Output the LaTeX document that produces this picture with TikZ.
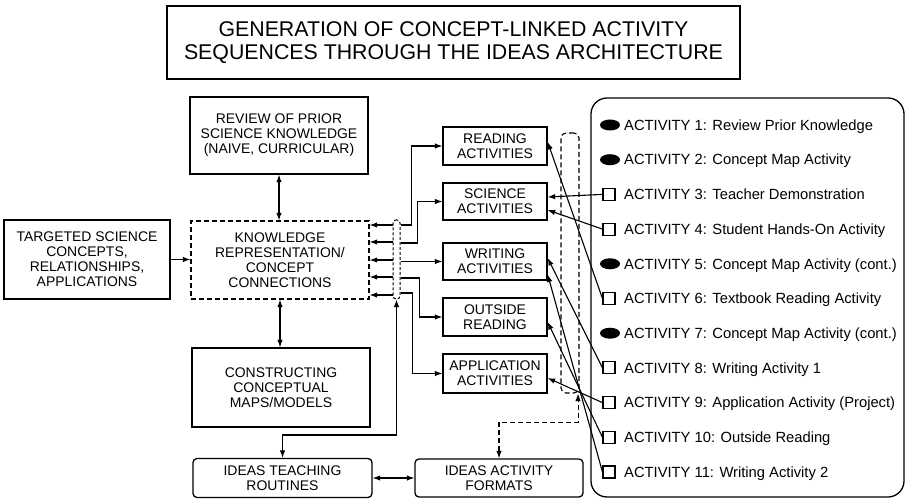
\documentclass[tikz,border=0pt]{standalone}
\usepackage{fontspec}
\setmainfont{Liberation Sans}
\usetikzlibrary{arrows.meta,calc,shapes.geometric}
\begin{document}
\begin{tikzpicture}[x=1bp,y=-1bp,
  >={Latex[length=7.5bp,width=5.5bp]},
  every node/.style={inner sep=0pt},
  boxfont/.style={font=\fontsize{14}{15}\selectfont},
  frame/.style={draw, line width=1.3bp, align=center, boxfont},
  dashframe/.style={frame, dash pattern=on 5bp off 3bp},
  roundframe/.style={frame, rounded corners=4bp},
  link/.style={line width=1.1bp},
  dlink/.style={link, dash pattern=on 5bp off 3bp},
  actfont/.style={font=\fontsize{14.8}{16}\selectfont},
  bullet/.style={ellipse, fill, minimum width=20bp, minimum height=11bp},
  tick/.style={draw, line width=1.1bp, minimum size=12bp},
  acttext/.style={anchor=base west, actfont},
]
\useasboundingbox (0,0) rectangle (907,499);

% heading
\node[frame, minimum width=573bp, minimum height=73bp,
      font=\fontsize{21.4}{23}\selectfont] (title) at (453.5,42.5)
  {GENERATION OF CONCEPT-LINKED ACTIVITY\\SEQUENCES THROUGH THE IDEAS ARCHITECTURE};

% knowledge column
\node[frame, minimum width=178bp, minimum height=77bp] (review) at (279,135.5)
  {REVIEW OF PRIOR\\SCIENCE KNOWLEDGE\\(NAIVE, CURRICULAR)};
\node[frame, minimum width=166bp, minimum height=79bp] (targeted) at (87,259.5)
  {TARGETED SCIENCE\\CONCEPTS,\\RELATIONSHIPS,\\APPLICATIONS};
\node[dashframe, minimum width=178bp, minimum height=78bp] (know) at (280,260)
  {KNOWLEDGE\\REPRESENTATION/\\CONCEPT\\CONNECTIONS};
\node[frame, minimum width=178bp, minimum height=79bp] (construct) at (281,387.5)
  {CONSTRUCTING\\CONCEPTUAL\\MAPS/MODELS};
\node[roundframe, minimum width=179bp, minimum height=39bp] (routines) at (282.5,478)
  {IDEAS TEACHING\\ROUTINES};
\node[roundframe, minimum width=168bp, minimum height=38bp] (formats) at (499,478)
  {IDEAS ACTIVITY\\FORMATS};

% activity boxes
\node[frame, minimum width=104bp, minimum height=38bp] (reading) at (495,146)
  {READING\\ACTIVITIES};
\node[frame, minimum width=104bp, minimum height=37bp] (science) at (495,201.5)
  {SCIENCE\\ACTIVITIES};
\node[frame, minimum width=104bp, minimum height=37bp] (writing) at (495,261.5)
  {WRITING\\ACTIVITIES};
\node[frame, minimum width=104bp, minimum height=38bp] (outside) at (495,317)
  {OUTSIDE\\READING};
\node[frame, minimum width=104bp, minimum height=39bp] (application) at (495,373.5)
  {APPLICATION\\ACTIVITIES};

% distribution bar and collecting bar
\node[draw, line width=1bp, dash pattern=on 3bp off 2bp, rounded corners=3bp,
      minimum width=7bp, minimum height=79bp] (bar) at (396.5,259.5) {};
\node[draw, line width=1.1bp, dash pattern=on 5bp off 3bp, rounded corners=5bp,
      minimum width=18bp, minimum height=260bp] (collect) at (570,263) {};

% activity sequence panel
\node[draw, line width=1.3bp, rounded corners=16bp,
      minimum width=313bp, minimum height=399bp] (panel) at (747.5,297.5) {};

\node[bullet] (m1)  at (610,125)   {};
\node[bullet] (m2)  at (610,159.7) {};
\node[tick]   (m3)  at (609,194.4) {};
\node[tick]   (m4)  at (609,229.1) {};
\node[bullet] (m5)  at (610,263.8) {};
\node[tick]   (m6)  at (609,298.5) {};
\node[bullet] (m7)  at (610,333.2) {};
\node[tick]   (m8)  at (609,367.9) {};
\node[tick]   (m9)  at (609,402.6) {};
\node[tick]   (m10) at (609,437.3) {};
\node[tick]   (m11) at (609,472)   {};

\node[acttext] (t1)  at (624,130.3) {ACTIVITY 1: Review Prior Knowledge};
\node[acttext] (t2)  at (624,165.0) {ACTIVITY 2: Concept Map Activity};
\node[acttext] (t3)  at (624,199.7) {ACTIVITY 3: Teacher Demonstration};
\node[acttext] (t4)  at (624,234.4) {ACTIVITY 4: Student Hands-On Activity};
\node[acttext] (t5)  at (624,269.1) {ACTIVITY 5: Concept Map Activity (cont.)};
\node[acttext] (t6)  at (624,303.8) {ACTIVITY 6: Textbook Reading Activity};
\node[acttext] (t7)  at (624,338.5) {ACTIVITY 7: Concept Map Activity (cont.)};
\node[acttext] (t8)  at (624,373.2) {ACTIVITY 8: Writing Activity 1};
\node[acttext] (t9)  at (624,407.9) {ACTIVITY 9: Application Activity (Project)};
\node[acttext] (t10) at (624,442.6) {ACTIVITY 10: Outside Reading};
\node[acttext] (t11) at (624,477.3) {ACTIVITY 11: Writing Activity 2};

% knowledge column links
\draw[link,<->] (review.south) -- (review.south |- know.north);
\draw[link,<->] (know.south) -- (know.south |- construct.north);
\draw[link,->] (targeted.east) -- (targeted.east -| know.west);
\foreach \y in {225,242,260,277,295}
  \draw[link,->] (bar.west |- 0,\y) -- (know.east |- 0,\y);

% bar to activity boxes
\draw[link,->] (bar.east |- 0,225) -| ($(reading.west)+(-31,0)$) -- (reading.west);
\draw[link,->] (bar.east |- 0,243) -| ($(science.west)+(-25,0)$) -- (science.west);
\draw[link,->] (bar.east |- writing.west) -- (writing.west);
\draw[link,->] (bar.east |- 0,278) -| ($(outside.west)+(-23,0)$) -- (outside.west);
\draw[link,->] (bar.east |- 0,293) -| ($(application.west)+(-30,0)$) -- (application.west);

% routines and formats
\draw[link,<->] (routines.north) |- (bar.south |- 0,435) -- (bar.south);
\draw[link,<->] (routines.east) -- (formats.west);
\draw[dlink,<->] (formats.north) |- ($(collect.south east)+(-1.5,29)$)
  -- ($(collect.south east)+(-1.5,0)$);

% activities feeding the activity boxes
\draw[link,->] (m6.west)  -- ($(reading.east)+(0,-4)$);
\draw[link,->] (m3.west)  -- ($(science.east)+(0,-4.5)$);
\draw[link,->] (m4.west)  -- ($(science.east)+(0,8.5)$);
\draw[link,->] (m8.west)  -- ($(writing.east)+(0,-3.5)$);
\draw[link,->] (m11.west) -- ($(writing.east)+(0,13)$);
\draw[link,->] (m10.west) -- ($(outside.east)+(0,5)$);
\draw[link,->] (m9.west)  -- ($(application.east)+(0,4.5)$);
\end{tikzpicture}
\end{document}
